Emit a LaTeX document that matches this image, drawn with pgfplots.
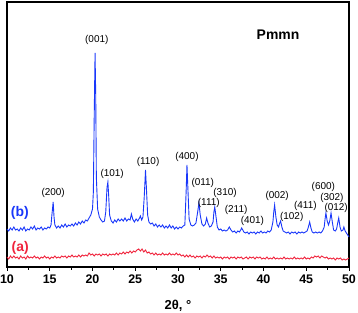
\documentclass[border=0pt]{standalone}
\usepackage{fontspec}
\setmainfont{Liberation Sans}
\usepackage{pgfplots}
\pgfplotsset{compat=1.18}
\definecolor{xblue}{RGB}{25,55,250}
\definecolor{xred}{RGB}{240,35,60}
\begin{document}
\begin{tikzpicture}
\begin{axis}[
  scale only axis, width=342bp, height=265bp,
  xmin=10, xmax=50, ymin=0, ymax=265,
  xtick={10,15,...,50}, minor x tick num=1,
  ytick=\empty,
  xtick pos=bottom, tick align=outside,
  major tick length=3.5bp, minor tick length=2.5bp,
  axis line style={line width=1.3pt},
  every tick/.style={line width=0.9pt, black},
  /pgf/number format/assume math mode=true,
  tick label style={font=\bfseries\fontsize{12.5}{12.5}\selectfont},
  xticklabel style={yshift=-1bp},
  xlabel={\bfseries 2θ, °},
  xlabel style={font=\bfseries\fontsize{13}{13}\selectfont, yshift=-9bp},
  clip=false,
]
\addplot[xblue, line width=0.9pt] coordinates {
(10.0,38)(10.2,36)(10.4,39)(10.6,37)(10.8,40)(11.0,37)(11.2,38)(11.4,36)(11.6,39)(11.8,37)(12.0,40)(12.2,36)(12.4,38)(12.6,37)(12.8,40)(13.0,38)(13.2,41)(13.4,37)(13.6,39)(13.8,38)(14.0,40)(14.2,37)(14.4,39)(14.6,38)(14.8,40)(15.0,39)(15.15,42)(15.25,52)(15.4,65)(15.5,50)(15.6,42)(15.8,39)(16.0,41)(16.2,39)(16.4,42)(16.6,40)(16.8,43)(17.0,40)(17.2,42)(17.4,41)(17.6,43)(17.8,41)(18.0,44)(18.2,42)(18.4,45)(18.6,43)(18.8,46)(19.0,44)(19.2,47)(19.4,46)(19.6,49)(19.8,52)(20.0,58)(20.1,75)(20.2,150)(20.3,214)(20.38,170)(20.45,90)(20.6,58)(20.8,50)(21.0,47)(21.2,45)(21.4,46)(21.55,55)(21.7,80)(21.8,85)(21.9,70)(22.0,52)(22.2,46)(22.4,44)(22.6,47)(22.8,45)(23.0,48)(23.2,46)(23.4,48)(23.6,46)(23.8,49)(24.0,46)(24.2,48)(24.4,47)(24.55,53)(24.7,48)(24.9,45)(25.1,48)(25.3,46)(25.5,49)(25.6,51)(25.75,47)(25.9,50)(26.05,70)(26.2,97)(26.3,80)(26.45,52)(26.6,45)(26.8,43)(27.0,44)(27.2,41)(27.4,43)(27.6,40)(27.8,42)(28.0,40)(28.2,42)(28.4,39)(28.6,41)(28.8,39)(29.0,42)(29.2,39)(29.4,41)(29.6,38)(29.8,40)(30.0,38)(30.2,40)(30.4,39)(30.6,41)(30.8,42)(30.95,75)(31.05,102)(31.15,80)(31.3,48)(31.5,42)(31.7,41)(31.9,42)(32.1,44)(32.3,55)(32.45,64)(32.6,52)(32.8,43)(33.0,41)(33.2,43)(33.35,49)(33.5,44)(33.7,40)(33.9,41)(34.1,45)(34.2,55)(34.3,60)(34.45,50)(34.6,40)(34.8,37)(35.0,38)(35.2,36)(35.4,37)(35.6,36)(35.8,37)(36.0,40)(36.2,37)(36.4,35)(36.6,36)(36.8,34)(37.0,36)(37.2,35)(37.45,39)(37.7,35)(37.9,34)(38.1,35)(38.3,33)(38.5,35)(38.7,34)(38.9,35)(39.1,33)(39.3,35)(39.5,34)(39.7,36)(39.9,34)(40.1,35)(40.3,34)(40.5,36)(40.7,35)(40.9,37)(41.1,45)(41.2,55)(41.3,62)(41.45,50)(41.6,42)(41.75,40)(41.9,44)(42.0,46)(42.15,40)(42.3,36)(42.5,35)(42.7,34)(42.9,35)(43.1,33)(43.3,35)(43.5,34)(43.7,35)(43.9,33)(44.1,35)(44.3,34)(44.5,35)(44.7,34)(44.9,35)(45.1,36)(45.25,40)(45.4,45)(45.55,39)(45.7,35)(45.9,34)(46.1,35)(46.3,34)(46.5,35)(46.7,34)(46.9,36)(47.1,40)(47.2,48)(47.3,54)(47.45,46)(47.6,42)(47.75,46)(47.9,54)(48.05,45)(48.2,37)(48.4,36)(48.55,38)(48.7,45)(48.8,49)(48.95,40)(49.1,36)(49.3,37)(49.4,40)(49.55,36)(49.7,34)(49.85,32)(50.0,30)
};
\addplot[xred, line width=0.9pt] coordinates {
(10.0,10)(10.2,8)(10.4,11)(10.6,9)(10.8,11)(11.0,9)(11.2,10)(11.4,8)(11.6,11)(11.8,9)(12.0,10)(12.2,8)(12.4,11)(12.6,9)(12.8,10)(13.0,9)(13.2,11)(13.4,9)(13.6,10)(13.8,8)(14.0,10)(14.2,9)(14.4,11)(14.6,9)(14.8,10)(15.0,8)(15.2,10)(15.4,9)(15.6,11)(15.8,9)(16.0,10)(16.2,9)(16.4,11)(16.6,10)(16.8,11)(17.0,9)(17.2,11)(17.4,10)(17.6,12)(17.8,10)(18.0,11)(18.2,10)(18.4,12)(18.6,10)(18.8,12)(19.0,11)(19.2,12)(19.4,11)(19.6,14)(19.8,12)(20.0,13)(20.2,11)(20.4,13)(20.6,12)(20.8,13)(21.0,11)(21.2,13)(21.4,12)(21.6,13)(21.8,11)(22.0,13)(22.2,12)(22.4,13)(22.6,12)(22.8,14)(23.0,12)(23.2,14)(23.4,13)(23.6,15)(23.8,13)(24.0,15)(24.2,14)(24.4,16)(24.6,14)(24.8,16)(25.0,15)(25.2,17)(25.4,18)(25.6,16)(25.8,18)(26.0,15)(26.2,17)(26.4,14)(26.6,15)(26.8,13)(27.0,14)(27.2,12)(27.4,14)(27.6,12)(27.8,13)(28.0,12)(28.2,14)(28.4,12)(28.6,13)(28.8,12)(29.0,14)(29.2,12)(29.4,13)(29.6,12)(29.8,14)(30.0,12)(30.2,13)(30.4,11)(30.6,12)(30.8,10)(31.0,12)(31.2,10)(31.4,12)(31.6,10)(31.8,11)(32.0,9)(32.2,11)(32.4,10)(32.6,11)(32.8,9)(33.0,11)(33.2,10)(33.4,12)(33.6,10)(33.8,11)(34.0,9)(34.2,11)(34.4,9)(34.6,10)(34.8,9)(35.0,10)(35.2,8)(35.4,10)(35.6,9)(35.8,10)(36.0,8)(36.2,10)(36.4,9)(36.6,10)(36.8,8)(37.0,10)(37.2,9)(37.4,10)(37.6,8)(37.8,9)(38.0,10)(38.2,8)(38.4,10)(38.6,9)(38.8,10)(39.0,8)(39.2,10)(39.4,9)(39.6,10)(39.8,8)(40.0,9)(40.2,8)(40.4,10)(40.6,8)(40.8,9)(41.0,8)(41.2,10)(41.4,8)(41.6,9)(41.8,8)(42.0,9)(42.2,8)(42.4,10)(42.6,8)(42.8,9)(43.0,8)(43.2,9)(43.4,8)(43.6,10)(43.8,8)(44.0,9)(44.2,8)(44.4,9)(44.6,8)(44.8,10)(45.0,8)(45.2,9)(45.4,8)(45.6,10)(45.8,9)(46.0,11)(46.2,10)(46.4,11)(46.6,9)(46.8,11)(47.0,10)(47.2,9)(47.4,10)(47.6,8)(47.8,9)(48.0,8)(48.2,9)(48.4,7)(48.6,9)(48.8,8)(49.0,9)(49.2,7)(49.4,8)(49.6,7)(49.8,8)(50.0,9)
};
\begin{scope}[every node/.style={font=\fontsize{10}{10}\selectfont, inner sep=0pt}]
\node at (axis cs:20.5,227) {(001)};
\node at (axis cs:15.4,74) {(200)};
\node at (axis cs:22.3,93) {(101)};
\node at (axis cs:26.5,105) {(110)};
\node at (axis cs:31.05,110) {(400)};
\node at (axis cs:32.9,84) {(011)};
\node at (axis cs:33.6,64) {(111)};
\node at (axis cs:35.5,74) {(310)};
\node at (axis cs:36.8,57) {(211)};
\node at (axis cs:38.7,46) {(401)};
\node at (axis cs:41.6,71) {(002)};
\node at (axis cs:43.3,50) {(102)};
\node at (axis cs:44.9,61) {(411)};
\node at (axis cs:47.0,80) {(600)};
\node at (axis cs:48.0,69) {(302)};
\node at (axis cs:48.5,59) {(012)};
\end{scope}
\node[font=\bfseries\fontsize{14}{14}\selectfont] at (axis cs:41.7,232) {Pmmn};
\node[font=\bfseries\fontsize{14}{14}\selectfont, text=xblue, anchor=east, inner sep=0pt] at (axis cs:12.57,54) {(b)};
\node[font=\bfseries\fontsize{14}{14}\selectfont, text=xred, anchor=east, inner sep=0pt] at (axis cs:12.57,19) {(a)};
\end{axis}
\path (current axis.south west) ++(-7bp,-46bp) coordinate (bl);
\path (current axis.north east) ++(9bp,2bp) coordinate (tr);
\pgfresetboundingbox
\path[use as bounding box] (bl) rectangle (tr);
\end{tikzpicture}
\end{document}
